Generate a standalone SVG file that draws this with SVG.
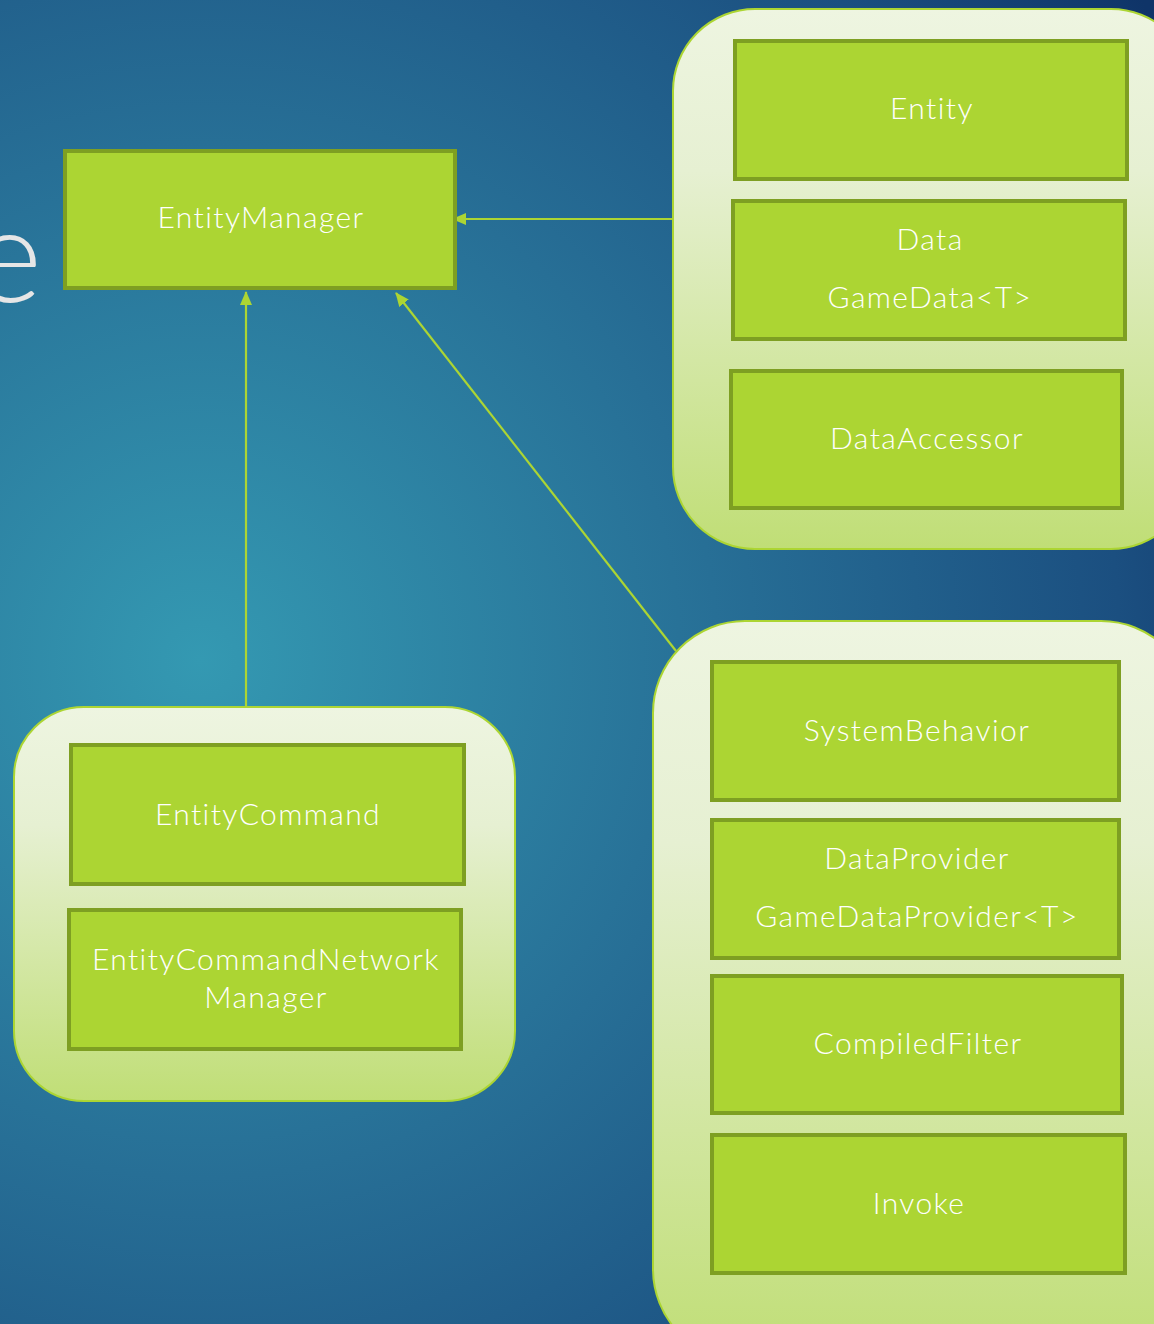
<svg xmlns="http://www.w3.org/2000/svg" width="1154" height="1324" viewBox="0 0 1154 1324">
<defs>
<radialGradient id="bg" cx="200" cy="660" r="1150" gradientUnits="userSpaceOnUse">
<stop offset="0" stop-color="#3499b2"/>
<stop offset="0.45" stop-color="#276f96"/>
<stop offset="0.8" stop-color="#1b4f80"/>
<stop offset="1" stop-color="#0f3468"/>
</radialGradient>
<linearGradient id="grp" x1="0" y1="0" x2="0" y2="1">
<stop offset="0" stop-color="#eef5e1"/>
<stop offset="0.3" stop-color="#e6f0d2"/>
<stop offset="1" stop-color="#c0de76"/>
</linearGradient>
<marker id="arr" viewBox="0 0 14 12" refX="13" refY="6" markerWidth="14" markerHeight="12" markerUnits="userSpaceOnUse" orient="auto">
<path d="M0,0 L14,6 L0,12 Z" fill="#acd533"/>
</marker>
</defs>
<style>
.grp{fill:url(#grp);stroke:#acd533;stroke-width:2}
.box{fill:#acd533;stroke:#7e9f22;stroke-width:4}
.lbl{fill:#ffffff;font-family:Lato,"Liberation Sans",sans-serif;font-weight:300;font-size:30px;letter-spacing:1.4px;text-anchor:middle}
.con{stroke:#acd533;stroke-width:2.2;fill:none;marker-end:url(#arr)}
</style>
<rect width="1154" height="1324" fill="url(#bg)"/>
<text x="42" y="302" font-family="Lato,'Liberation Sans',sans-serif" font-weight="300" font-size="132" fill="#e6e6e6" text-anchor="end">e</text>

<g id="connectors">
<line class="con" x1="673" y1="219" x2="453" y2="219"/>
<line class="con" x1="246" y1="707" x2="246" y2="292"/>
<line class="con" x1="676" y1="651" x2="396" y2="293"/>
</g>

<g id="EntityManager">
<rect class="box" x="65" y="151" width="390" height="137"/>
<text class="lbl" x="261" y="228">EntityManager</text>
</g>

<g id="group-data">
<rect class="grp" x="673" y="9" width="520" height="540" rx="82"/>
<g id="Entity">
<rect class="box" x="735" y="41" width="392" height="138"/>
<text class="lbl" x="932" y="119">Entity</text>
</g>
<g id="Data">
<rect class="box" x="733" y="201" width="392" height="138"/>
<text class="lbl" x="930" y="250">Data</text>
<text class="lbl" x="930" y="308">GameData&lt;T&gt;</text>
</g>
<g id="DataAccessor">
<rect class="box" x="731" y="371" width="391" height="137"/>
<text class="lbl" x="927" y="449">DataAccessor</text>
</g>
</g>

<g id="group-command">
<rect class="grp" x="14" y="707" width="501" height="394" rx="70"/>
<g id="EntityCommand">
<rect class="box" x="71" y="745" width="393" height="139"/>
<text class="lbl" x="268" y="825">EntityCommand</text>
</g>
<g id="EntityCommandNetworkManager">
<rect class="box" x="69" y="910" width="392" height="139"/>
<text class="lbl" x="266" y="970">EntityCommandNetwork</text>
<text class="lbl" x="266" y="1008">Manager</text>
</g>
</g>

<g id="group-system">
<rect class="grp" x="653" y="621" width="540" height="740" rx="92"/>
<g id="SystemBehavior">
<rect class="box" x="712" y="662" width="407" height="138"/>
<text class="lbl" x="917" y="741">SystemBehavior</text>
</g>
<g id="DataProvider">
<rect class="box" x="712" y="820" width="407" height="138"/>
<text class="lbl" x="917" y="869">DataProvider</text>
<text class="lbl" x="917" y="927">GameDataProvider&lt;T&gt;</text>
</g>
<g id="CompiledFilter">
<rect class="box" x="712" y="976" width="410" height="137"/>
<text class="lbl" x="918" y="1054">CompiledFilter</text>
</g>
<g id="Invoke">
<rect class="box" x="712" y="1135" width="413" height="138"/>
<text class="lbl" x="919" y="1214">Invoke</text>
</g>
</g>
</svg>
